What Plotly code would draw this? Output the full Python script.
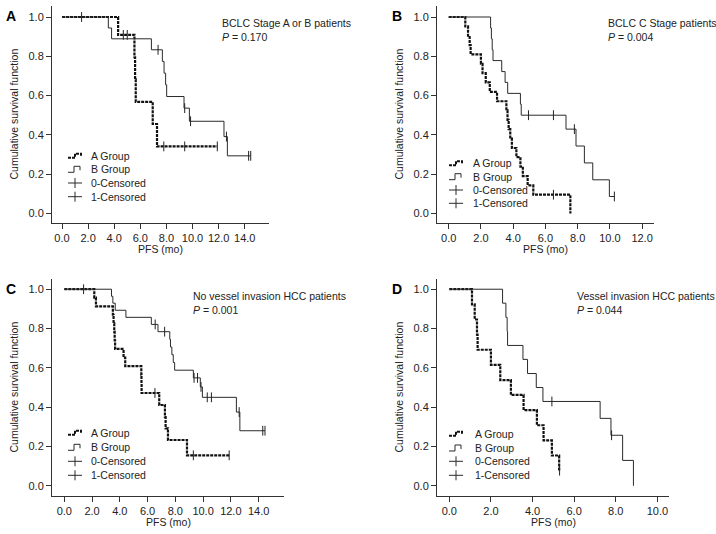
import plotly.graph_objects as go

W, H = 716, 534

# ---------------- data ----------------
# panel A: BCLC stage A or B
a_grpA_t = [4.3, 5.55, 5.6, 5.65, 6.95, 7.28]
a_grpA_s = [0.909, 0.795, 0.682, 0.568, 0.455, 0.341]
a_grpA_cens = [1.5, 4.7, 5.0, 7.8, 9.4, 11.9]
a_grpB_t = [3.55, 3.8, 6.85, 7.69, 7.82, 7.94, 8.02, 9.35, 9.76, 12.41, 12.67]
a_grpB_s = [0.944, 0.889, 0.833, 0.774, 0.714, 0.655, 0.595, 0.536, 0.469, 0.391, 0.293]
a_grpB_cens = [7.36, 9.4, 9.85, 12.6, 14.3, 14.46]

# panel B: BCLC C stage
b_grpA_t = [1.03, 1.2, 1.3, 1.36, 2.0, 2.1, 2.3, 2.55, 3.0, 3.58, 3.65, 3.72,
            3.82, 3.92, 4.2, 4.45, 4.6, 4.9, 5.25, 7.55]
b_grpA_s = [0.952, 0.905, 0.857, 0.810, 0.762, 0.714, 0.667, 0.619, 0.571, 0.524,
            0.476, 0.429, 0.381, 0.333, 0.286, 0.238, 0.190, 0.143, 0.095, 0.0]
b_grpA_cens = [6.5]
b_grpB_t = [2.6, 2.65, 2.7, 2.75, 3.29, 3.5, 3.66, 4.45, 4.5, 7.28, 7.9, 8.42, 8.94, 9.97]
b_grpB_s = [0.944, 0.889, 0.833, 0.778, 0.722, 0.667, 0.611, 0.556, 0.5, 0.429,
            0.343, 0.257, 0.171, 0.086]
b_grpB_cens = [4.95, 6.5, 7.8, 10.28]

# panel C: no vessel invasion
c_grpA_t = [2.16, 2.28, 3.5, 3.55, 3.6, 3.63, 3.66, 4.27, 4.39, 5.55, 5.56, 5.57,
            6.84, 7.25, 7.3, 7.47, 8.84]
c_grpA_s = [0.957, 0.913, 0.870, 0.826, 0.783, 0.739, 0.696, 0.652, 0.609, 0.565,
            0.522, 0.472, 0.411, 0.350, 0.292, 0.233, 0.155]
c_grpA_cens = [1.39, 6.53, 9.3, 11.88]
c_grpB_t = [3.4, 3.5, 3.67, 4.44, 6.27, 6.75, 7.6, 7.65, 7.75, 7.85, 7.95, 9.3,
            9.8, 9.95, 12.4, 12.65]
c_grpB_s = [0.964, 0.929, 0.893, 0.857, 0.821, 0.784, 0.745, 0.706, 0.667, 0.627,
            0.588, 0.549, 0.503, 0.450, 0.375, 0.280]
c_grpB_cens = [6.55, 7.23, 9.35, 9.6, 9.85, 10.3, 10.6, 12.6, 14.3, 14.46]

# panel D: vessel invasion
d_grpA_t = [1.09, 1.22, 1.33, 1.36, 2.0, 2.45, 2.96, 3.57, 4.21, 4.53, 4.93, 5.28]
d_grpA_s = [0.923, 0.846, 0.769, 0.692, 0.615, 0.538, 0.462, 0.385, 0.308, 0.231,
            0.154, 0.077]
d_grpA_cens = [5.3]
d_grpB_t = [2.56, 2.72, 2.78, 2.8, 3.54, 3.76, 4.18, 4.5, 7.25, 7.77, 8.33, 8.85]
d_grpB_s = [0.929, 0.857, 0.786, 0.714, 0.643, 0.571, 0.5, 0.429, 0.343, 0.257,
            0.129, 0.0]
d_grpB_cens = [4.93, 7.8]

panel_letters = ["A", "B", "C", "D"]
panel_titles = ["BCLC Stage A or B patients", "BCLC C Stage patients",
                "No vessel invasion HCC patients", "Vessel invasion HCC patients"]
panel_p = ["0.170", "0.004", "0.001", "0.044"]
panel_xmax_tick = [14, 12, 14, 10]
legend_labels = ["A Group", "B Group", "0-Censored", "1-Censored"]

FONT = "Liberation Sans, Arial, sans-serif"


def fx(px):
    return px / W


def fy(py):
    return 1 - py / H


def surv_at(t, times, surv):
    v = 1.0
    for ti, si in zip(times, surv):
        if ti <= t:
            v = si
    return v


# panel boxes in pixels: left, right, top, bottom, x range, y range
boxes = [
    (52, 269, 6, 223, [-0.766, 15.86], [-0.049, 1.056]),
    (437, 654, 6, 223, [-0.726, 12.74], [-0.049, 1.056]),
    (52, 284, 279, 496, [-0.886, 15.83], [-0.052, 1.052]),
    (437, 669, 279, 496, [-0.592, 10.56], [-0.052, 1.052]),
]

groups = [
    (a_grpA_t, a_grpA_s, a_grpA_cens, a_grpB_t, a_grpB_s, a_grpB_cens),
    (b_grpA_t, b_grpA_s, b_grpA_cens, b_grpB_t, b_grpB_s, b_grpB_cens),
    (c_grpA_t, c_grpA_s, c_grpA_cens, c_grpB_t, c_grpB_s, c_grpB_cens),
    (d_grpA_t, d_grpA_s, d_grpA_cens, d_grpB_t, d_grpB_s, d_grpB_cens),
]

# legend placement (symbol left, text left, row centres) in pixels
legend_pos = [
    (68, 89, [155.7, 169.3, 183.0, 196.7]),
    (449, 471, [163.3, 176.7, 190.0, 203.3]),
    (68, 89, [432.7, 447.3, 461.3, 475.3]),
    (449, 473, [433.7, 448.0, 461.3, 475.3]),
]

fig = go.Figure()
annotations = []
shapes = []

for i, (box, g) in enumerate(zip(boxes, groups)):
    left, right, top, bottom, xr, yr = box
    n = "" if i == 0 else str(i + 1)
    xa, ya = "x" + n, "y" + n

    tA, sA, cA, tB, sB, cB = g
    for t, s, cens, style in [(tA, sA, cA, "A"), (tB, sB, cB, "B")]:
        end = max(t[-1], max(cens))
        xs = [0] + t + [end]
        ys = [1.0] + s + [s[-1]]
        if style == "A":
            line = dict(color="#111111", width=2.2, dash="3px,1px", shape="hv")
        else:
            line = dict(color="#2a2a2a", width=1, shape="hv")
        fig.add_trace(go.Scatter(x=xs, y=ys, mode="lines", line=line,
                                 xaxis=xa, yaxis=ya, showlegend=False,
                                 hoverinfo="skip"))
        fig.add_trace(go.Scatter(
            x=cens, y=[surv_at(c, t, s) for c in cens], mode="markers",
            marker=dict(symbol="line-ns", size=7,
                        line=dict(width=1, color="#222222")),
            xaxis=xa, yaxis=ya, showlegend=False, hoverinfo="skip"))

    axis_common = dict(showline=True, linecolor="#333333", linewidth=1,
                       ticks="outside", ticklen=5, tickcolor="#333333",
                       showgrid=False, zeroline=False,
                       tickfont=dict(family=FONT, size=11, color="#222222"))
    fig.layout["xaxis" + n] = dict(
        domain=[fx(left), fx(right)], range=xr, anchor=ya,
        tickmode="array",
        tickvals=list(range(0, panel_xmax_tick[i] + 1, 2)),
        tickformat=".1f", **axis_common)
    fig.layout["yaxis" + n] = dict(
        domain=[fy(bottom), fy(top)], range=yr, anchor=xa,
        tickmode="array", tickvals=[0, 0.2, 0.4, 0.6, 0.8, 1.0],
        tickformat=".1f", **axis_common)

    # texts
    tfont = dict(family=FONT, size=10.5, color="#222222")
    title_x = {0: 220, 1: 606, 2: 191, 3: 575}[i]
    annotations.append(dict(x=fx(title_x), y=fy(top + 16.7), xref="paper", yref="paper",
                            text=panel_titles[i], showarrow=False,
                            xanchor="left", yanchor="middle", font=tfont))
    annotations.append(dict(x=fx(title_x), y=fy(top + 30.5), xref="paper", yref="paper",
                            text="<i>P</i> = " + panel_p[i], showarrow=False,
                            xanchor="left", yanchor="middle", font=tfont))
    letter_x = 11 if left < 100 else 397
    annotations.append(dict(x=fx(letter_x), y=fy(top + 10), xref="paper", yref="paper",
                            text="<b>" + panel_letters[i] + "</b>", showarrow=False,
                            xanchor="center", yanchor="middle",
                            font=dict(family=FONT, size=14, color="#000000")))
    annotations.append(dict(x=fx(left - 39), y=fy((top + bottom) / 2), xref="paper",
                            yref="paper", text="Cumulative survival function",
                            textangle=-90, showarrow=False, xanchor="center",
                            yanchor="middle", font=tfont))
    annotations.append(dict(x=fx((left + right) / 2), y=fy(bottom + 26), xref="paper",
                            yref="paper", text="PFS (mo)", showarrow=False,
                            xanchor="center", yanchor="middle", font=tfont))

    # hand-drawn legend, as in the original
    sx, tx, rows = legend_pos[i]
    for label, ry in zip(legend_labels, rows):
        annotations.append(dict(x=fx(tx), y=fy(ry), xref="paper", yref="paper",
                                text=label, showarrow=False, xanchor="left",
                                yanchor="middle", font=tfont))
    r0, r1, r2, r3 = rows
    shapes.append(dict(type="path", xref="paper", yref="paper",
                       path="M %f,%f H %f V %f H %f V %f" % (
                           fx(sx), fy(r0 + 2), fx(sx + 7), fy(r0 - 2),
                           fx(sx + 13), fy(r0 + 1)),
                       line=dict(color="#111111", width=2, dash="3px,1px")))
    shapes.append(dict(type="path", xref="paper", yref="paper",
                       path="M %f,%f H %f V %f H %f V %f" % (
                           fx(sx), fy(r1 + 3), fx(sx + 6), fy(r1 - 3),
                           fx(sx + 12), fy(r1 + 1)),
                       line=dict(color="#2a2a2a", width=1)))
    for ry in (r2, r3):
        shapes.append(dict(type="line", xref="paper", yref="paper",
                           x0=fx(sx), x1=fx(sx + 14), y0=fy(ry), y1=fy(ry),
                           line=dict(color="#2a2a2a", width=1)))
        shapes.append(dict(type="line", xref="paper", yref="paper",
                           x0=fx(sx + 7), x1=fx(sx + 7), y0=fy(ry - 5), y1=fy(ry + 5),
                           line=dict(color="#2a2a2a", width=1)))

fig.update_layout(
    width=W, height=H,
    margin=dict(l=0, r=0, t=0, b=0),
    paper_bgcolor="white", plot_bgcolor="white",
    showlegend=False,
    annotations=annotations,
    shapes=shapes,
)

# the page's default 8px body margin would push the figure off-centre
fig.write_html("out.html", config={"displayModeBar": False},
               post_script="document.body.style.margin = '0';")
